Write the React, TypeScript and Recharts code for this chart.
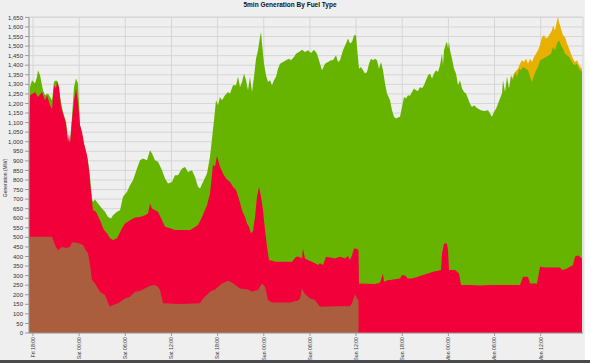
import React from 'react';
import { ComposedChart, Area, XAxis, YAxis, CartesianGrid } from 'recharts';

// time in hours from Fri 00:00, value = stacked top (MW)
const coalTop: [number, number][] = [
  [17.5,459],[17.61,503],[18,503],[20.47,503],[20.86,460],[21.25,433],[21.77,450],[22.29,445],[22.81,450],[23.07,475],[23.85,470],[24.5,460],[24.89,430],[25.15,416],[25.41,360],[25.67,277],[26.06,259],[26.71,216],[27.36,199],[27.75,160],[28.01,137],[28.4,146],[29.05,155],[29.57,170],[29.96,181],[30.61,190],[31.26,216],[31.91,219],[32.95,242],[33.47,250],[33.86,251],[34.25,240],[34.51,225],[34.9,155],[37.11,152],[39.71,155],[40.1,181],[40.62,200],[41.01,216],[41.66,228],[42.57,259],[43.35,273],[44,260],[44.91,233],[45.95,228],[46.47,216],[47.25,225],[47.77,259],[48.16,242],[48.55,172],[49.07,159],[51.41,159],[52.45,170],[52.71,181],[52.97,233],[53.23,210],[53.49,199],[54.01,181],[54.66,172],[55.05,150],[55.31,137],[57.26,140],[59.21,140],[59.47,155],[59.86,203],[60.12,180],[60.32,172]
];

const gasTop: [number, number][] = [
  [17.5,1060],[17.61,1243],[18,1252],[18.26,1260],[18.65,1234],[19.17,1260],[19.56,1217],[19.82,1243],[20.21,1191],[20.47,1173],[20.73,1295],[20.99,1278],[21.12,1312],[21.38,1286],[21.64,1182],[21.9,1147],[22.29,1095],[22.55,999],[22.68,1043],[22.81,990],[23.07,1112],[23.33,1217],[23.59,1278],[23.85,1208],[24.11,1086],[24.37,1051],[24.63,990],[25.02,929],[25.28,851],[25.54,738],[25.8,642],[26.19,634],[26.71,590],[27.23,538],[27.62,521],[28.01,495],[28.4,486],[28.92,495],[29.57,547],[29.96,573],[30.61,590],[31.26,604],[31.91,607],[32.56,616],[32.95,625],[33.21,677],[33.47,651],[33.86,642],[34.25,634],[34.77,590],[35.16,555],[35.81,547],[36.46,538],[38.41,538],[38.8,547],[39.45,564],[39.97,607],[40.62,668],[41.01,729],[41.4,880],[41.66,870],[41.92,925],[42.31,869],[42.7,834],[43.09,808],[43.61,790],[44,764],[44.39,747],[44.78,700],[45.17,642],[45.56,607],[45.82,573],[46.08,555],[46.34,520],[46.6,535],[46.86,607],[47.12,712],[47.38,764],[47.64,712],[47.9,642],[48.16,538],[48.42,451],[48.68,381],[49.07,378],[49.46,373],[51.67,373],[52.19,399],[52.58,399],[52.97,390],[53.1,442],[53.36,390],[53.75,381],[54.27,373],[54.66,364],[55.05,355],[55.31,364],[55.7,355],[56.09,399],[56.61,395],[57.26,390],[57.91,399],[58.56,390],[58.95,402],[59.21,381],[59.47,407],[59.73,442],[60.12,440],[60.32,433],[60.38,259],[62.46,256],[63.11,263],[63.5,311],[63.63,268],[64.15,277],[64.41,277],[65.71,285],[65.97,303],[66.36,300],[66.75,285],[67.27,285],[68.05,294],[68.7,303],[69.35,311],[70,320],[70.65,325],[71.04,329],[71.17,416],[71.43,468],[71.82,468],[71.95,433],[72.08,329],[72.86,329],[73.38,311],[73.64,251],[74.81,251],[76.11,248],[77.41,251],[78.71,251],[80.01,251],[81.31,251],[81.7,294],[82.35,294],[82.61,259],[83.52,259],[83.91,346],[84.56,343],[86.51,343],[86.77,329],[87.29,335],[87.81,346],[88.2,355],[88.46,399],[88.85,407],[89.37,390]
];

const windTop: [number, number][] = [
  [17.5,1095],[17.61,1286],[17.87,1321],[18.26,1304],[18.52,1339],[18.65,1373],[18.91,1347],[19.3,1269],[19.56,1243],[19.95,1252],[20.47,1217],[20.73,1312],[20.99,1321],[21.25,1312],[21.51,1234],[21.9,1156],[22.29,1104],[22.55,1008],[22.81,999],[23.07,1130],[23.33,1286],[23.59,1330],[23.85,1304],[24.11,1086],[24.63,990],[25.15,903],[25.41,816],[25.67,700],[25.8,686],[26.06,698],[26.45,677],[26.97,651],[27.36,634],[27.75,607],[28.14,599],[28.4,616],[28.92,634],[29.31,642],[29.7,712],[30.22,738],[30.61,773],[31,799],[31.52,860],[31.91,903],[32.3,912],[32.82,903],[33.21,955],[33.47,938],[33.86,903],[34.25,895],[34.77,851],[35.16,808],[35.55,782],[36.07,790],[36.46,825],[36.85,825],[37.37,860],[37.76,868],[38.15,842],[38.67,851],[39.06,816],[39.45,764],[39.71,755],[40.1,790],[40.62,834],[41.01,921],[41.27,1017],[41.53,1112],[41.79,1217],[42.05,1191],[42.31,1234],[42.57,1217],[42.96,1243],[43.35,1260],[43.61,1252],[44,1295],[44.39,1295],[44.65,1339],[44.91,1286],[45.17,1312],[45.43,1356],[45.69,1321],[45.95,1269],[46.21,1339],[46.47,1260],[46.73,1339],[46.99,1434],[47.25,1478],[47.51,1547],[47.64,1574],[47.77,1513],[48.03,1408],[48.29,1347],[48.55,1312],[48.81,1321],[49.07,1295],[49.33,1321],[49.59,1339],[49.85,1382],[50.11,1408],[50.5,1417],[50.89,1426],[51.28,1434],[51.54,1426],[51.93,1443],[52.19,1460],[52.58,1469],[52.97,1481],[53.36,1469],[53.75,1478],[54.14,1464],[54.53,1481],[54.92,1460],[55.31,1408],[55.57,1373],[55.96,1408],[56.35,1417],[56.74,1426],[57,1426],[57.39,1452],[57.65,1417],[57.91,1426],[58.3,1478],[58.69,1513],[58.95,1539],[59.21,1513],[59.47,1521],[59.73,1556],[59.99,1556],[60.12,1495],[60.38,1382],[60.64,1390],[60.9,1373],[61.16,1356],[61.42,1365],[61.68,1408],[61.94,1434],[62.2,1426],[62.46,1434],[62.72,1426],[62.98,1382],[63.24,1417],[63.5,1373],[63.76,1304],[64.02,1252],[64.41,1217],[64.67,1165],[64.93,1130],[65.19,1122],[65.45,1126],[65.71,1130],[65.97,1182],[66.23,1234],[66.49,1226],[66.75,1243],[67.01,1240],[67.27,1260],[67.53,1278],[67.79,1269],[68.05,1265],[68.31,1286],[68.57,1280],[68.83,1295],[69.09,1321],[69.35,1347],[69.61,1356],[69.87,1330],[70.13,1356],[70.39,1373],[70.65,1365],[70.91,1400],[71.17,1460],[71.3,1400],[71.43,1478],[71.69,1513],[71.82,1521],[71.95,1487],[72.08,1521],[72.21,1478],[72.47,1434],[72.73,1382],[72.99,1356],[73.25,1295],[73.51,1321],[73.77,1278],[74.03,1260],[74.29,1252],[74.55,1226],[74.81,1199],[75.07,1182],[75.33,1191],[75.59,1182],[75.85,1173],[76.24,1165],[76.63,1160],[77.15,1165],[77.41,1147],[77.67,1130],[77.93,1156],[78.19,1173],[78.45,1199],[78.71,1226],[78.97,1252],[79.1,1321],[79.36,1260],[79.62,1339],[79.88,1278],[80.14,1347],[80.4,1321],[80.66,1365],[80.92,1339],[81.18,1382],[81.44,1373],[81.7,1391],[82.09,1382],[82.35,1373],[82.61,1339],[82.87,1312],[83.13,1347],[83.39,1373],[83.65,1391],[83.91,1426],[84.3,1434],[84.69,1443],[85.08,1452],[85.34,1460],[85.6,1495],[85.86,1478],[86.12,1513],[86.38,1530],[86.64,1504],[86.9,1487],[87.16,1460],[87.42,1452],[87.68,1443],[87.94,1426],[88.2,1408],[88.46,1400],[88.72,1408],[88.98,1382],[89.37,1365]
];

const solarTop: [number, number][] = [
  [80.27,1330],[80.66,1365],[81.05,1382],[81.31,1408],[81.57,1426],[81.83,1417],[82.09,1434],[82.35,1408],[82.61,1434],[82.87,1417],[83.13,1443],[83.39,1460],[83.65,1478],[83.91,1504],[84.17,1547],[84.43,1556],[84.69,1539],[84.95,1547],[85.21,1565],[85.47,1582],[85.6,1608],[85.86,1582],[86.12,1634],[86.25,1652],[86.38,1626],[86.64,1591],[86.9,1556],[87.16,1547],[87.42,1513],[87.68,1487],[87.94,1460],[88.2,1434],[88.46,1417],[88.72,1426],[88.98,1400],[89.37,1382]
];

const xTicks = [18, 24, 30, 36, 42, 48, 54, 60, 66, 72, 78, 84];
const xTickLabels = ['Fri 18:00', 'Sat 00:00', 'Sat 06:00', 'Sat 12:00', 'Sat 18:00', 'Sun 00:00', 'Sun 06:00', 'Sun 12:00', 'Sun 18:00', 'Mon 00:00', 'Mon 06:00', 'Mon 12:00'];
const yTicks = [0, 50, 100, 150, 200, 250, 300, 350, 400, 450, 500, 550, 600, 650, 700, 750, 800, 850, 900, 950, 1000, 1050, 1100, 1150, 1200, 1250, 1300, 1350, 1400, 1450, 1500, 1550, 1600, 1650];

const FONT = '"Liberation Sans", Arial, sans-serif';

const rows = (pairs: [number, number][]) => pairs.map(([t, v]) => ({ t, v }));

const XTick = (props: any) => {
  const { x, y, payload } = props;
  const idx = xTicks.indexOf(payload.value);
  const label = idx >= 0 ? xTickLabels[idx] : '';
  return (
    <text
      x={x}
      y={y}
      transform={`rotate(-90 ${x} ${y})`}
      textAnchor="end"
      dy="0.35em"
      fontSize={5.2}
      fontFamily={FONT}
      fill="#333"
    >
      {label}
    </text>
  );
};

export default function App() {
  return (
    <div style={{ position: 'absolute', left: 0, top: 0, width: 590, height: 363, background: '#efefef', overflow: 'hidden' }}>
      <div style={{ position: 'absolute', left: 0, top: 1, width: 580, textAlign: 'center', fontFamily: FONT, fontSize: 6.5, fontWeight: 'bold', color: '#111' }}>
        5min Generation By Fuel Type
      </div>
      <div style={{ position: 'absolute', left: 5, top: 178, width: 0, height: 0 }}>
        <div style={{ position: 'absolute', transform: 'translate(-50%, -50%) rotate(-90deg)', whiteSpace: 'nowrap', fontFamily: FONT, fontSize: 5, color: '#333' }}>
          Generation (MW)
        </div>
      </div>
      <div style={{ position: 'absolute', left: 0, top: 0 }}>
        <ComposedChart width={590} height={363} margin={{ top: 17, right: 7, bottom: 0, left: 0 }}>
          <CartesianGrid stroke="#d6d6d6" strokeWidth={1} horizontal vertical />
          <XAxis
            dataKey="t"
            type="number"
            domain={[17.48, 89.5]}
            allowDataOverflow
            ticks={xTicks}
            interval={0}
            height={30}
            tick={<XTick />}
            tickSize={3}
            tickMargin={1}
            stroke="#999"
          />
          <YAxis
            type="number"
            domain={[0, 1650]}
            ticks={yTicks}
            interval={0}
            width={29}
            tickSize={4}
            tickMargin={2}
            stroke="#999"
            tickFormatter={(v: number) => v.toLocaleString('en-US')}
            tick={{ fontSize: 6, fontFamily: FONT, fill: '#333' }}
          />
          <Area data={rows(solarTop)} dataKey="v" type="linear" stroke="none" fill="#e8b000" fillOpacity={1} dot={false} activeDot={false} isAnimationActive={false} />
          <Area data={rows(windTop)} dataKey="v" type="linear" stroke="none" fill="#66b400" fillOpacity={1} dot={false} activeDot={false} isAnimationActive={false} />
          <Area data={rows(gasTop)} dataKey="v" type="linear" stroke="none" fill="#f2003a" fillOpacity={1} dot={false} activeDot={false} isAnimationActive={false} />
          <Area data={rows(coalTop)} dataKey="v" type="linear" stroke="none" fill="#ab5e3e" fillOpacity={1} dot={false} activeDot={false} isAnimationActive={false} />
        </ComposedChart>
      </div>
      <div style={{ position: 'absolute', left: 585, top: 0, width: 5, height: 363, background: '#ffffff' }} />
      <div style={{ position: 'absolute', left: 0, top: 360, width: 590, height: 3, background: '#4a4a4a' }} />
    </div>
  );
}
